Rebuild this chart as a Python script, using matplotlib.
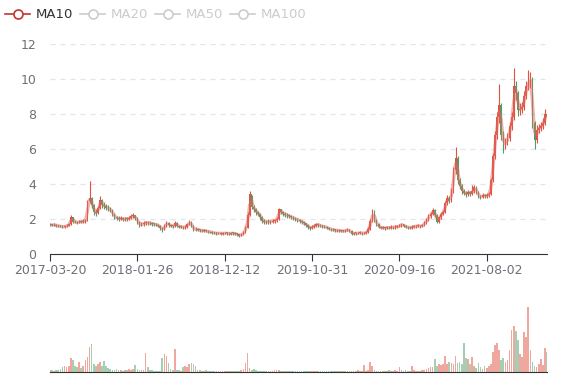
"""Candlestick chart with MA10 and volume panel (weekly candles, 2017-03 .. 2022-03)."""
import matplotlib
matplotlib.use("Agg")
import matplotlib.pyplot as plt
from matplotlib.lines import Line2D
import numpy as np
import pandas as pd

# weekly closes (one candle = one trading week)
closes = [
    1.67, 1.65, 1.68, 1.62, 1.60, 1.58, 1.55, 1.58, 1.62, 1.70,
    2.10, 1.85, 1.82, 1.80, 1.85, 1.83, 1.88, 1.90, 3.00, 3.20,
    2.80, 2.40, 2.35, 2.60, 3.10, 2.80, 2.75, 2.65, 2.60, 2.50,
    2.30, 2.10, 2.05, 2.00, 2.05, 1.98, 2.02, 2.00, 2.05, 2.15,
    2.20, 2.05, 1.85, 1.65, 1.70, 1.75, 1.80, 1.78, 1.75, 1.72,
    1.70, 1.68, 1.62, 1.50, 1.38, 1.60, 1.78, 1.65, 1.60, 1.58,
    1.78, 1.62, 1.55, 1.55, 1.52, 1.55, 1.70, 1.82, 1.60, 1.40,
    1.42, 1.38, 1.35, 1.33, 1.35, 1.30, 1.28, 1.25, 1.22, 1.20,
    1.18, 1.20, 1.17, 1.18, 1.20, 1.18, 1.16, 1.20, 1.18, 1.15,
    1.12, 1.05, 1.12, 1.25, 1.50, 2.20, 3.40, 2.70, 2.55, 2.40,
    2.30, 2.10, 1.90, 1.85, 1.82, 1.88, 1.85, 1.90, 1.92, 2.00,
    2.55, 2.40, 2.30, 2.25, 2.20, 2.15, 2.10, 2.05, 2.00, 1.95,
    1.90, 1.82, 1.75, 1.65, 1.55, 1.48, 1.55, 1.62, 1.70, 1.65,
    1.60, 1.58, 1.55, 1.50, 1.45, 1.40, 1.38, 1.35, 1.36, 1.34,
    1.32, 1.30, 1.35, 1.38, 1.32, 1.15, 1.20, 1.18, 1.20, 1.22,
    1.18, 1.20, 1.25, 1.45, 1.90, 2.45, 1.95, 1.70, 1.55, 1.50,
    1.50, 1.48, 1.52, 1.50, 1.55, 1.52, 1.55, 1.58, 1.62, 1.70,
    1.60, 1.55, 1.52, 1.50, 1.55, 1.58, 1.60, 1.62, 1.58, 1.65,
    1.80, 1.95, 2.15, 2.30, 2.50, 2.20, 1.85, 2.10, 2.30, 2.40,
    2.90, 3.20, 3.05, 3.60, 4.80, 5.50, 4.20, 3.90, 3.60, 3.50,
    3.40, 3.55, 3.45, 3.60, 3.80, 3.55, 3.30, 3.25, 3.35, 3.30,
    3.35, 3.40, 4.20, 5.60, 6.80, 7.80, 8.50, 6.80, 6.20, 6.40,
    6.60, 7.30, 7.80, 9.60, 9.20, 8.20, 8.30, 8.40, 9.00, 9.60,
    9.80, 10.00, 7.50, 6.50, 7.10, 7.20, 7.30, 7.50, 8.00, 7.80,
]
first_open = 1.70

# weekly highs / lows (upper and lower edge of the candle band)
highs = [
    1.76, 1.74, 1.75, 1.72, 1.68, 1.66, 1.64, 1.66, 1.72, 1.80,
    2.25, 2.12, 1.92, 1.90, 1.95, 1.94, 1.98, 2.02, 3.10, 4.20,
    3.25, 2.85, 2.55, 2.75, 3.30, 3.15, 2.95, 2.85, 2.78, 2.70,
    2.55, 2.35, 2.20, 2.15, 2.18, 2.12, 2.14, 2.12, 2.18, 2.28,
    2.32, 2.25, 2.10, 1.90, 1.82, 1.86, 1.90, 1.90, 1.86, 1.84,
    1.80, 1.78, 1.74, 1.66, 1.54, 1.70, 1.88, 1.82, 1.72, 1.68,
    1.88, 1.82, 1.68, 1.64, 1.62, 1.64, 1.80, 1.92, 1.86, 1.64,
    1.52, 1.48, 1.45, 1.42, 1.44, 1.40, 1.36, 1.34, 1.30, 1.28,
    1.26, 1.28, 1.25, 1.26, 1.28, 1.26, 1.24, 1.28, 1.26, 1.24,
    1.20, 1.15, 1.20, 1.34, 1.62, 2.40, 3.60, 3.30, 2.80, 2.62,
    2.48, 2.35, 2.15, 1.98, 1.95, 1.98, 1.96, 2.00, 2.02, 2.12,
    2.65, 2.60, 2.45, 2.38, 2.32, 2.28, 2.22, 2.18, 2.12, 2.08,
    2.02, 1.96, 1.88, 1.80, 1.70, 1.60, 1.64, 1.72, 1.80, 1.76,
    1.70, 1.68, 1.65, 1.60, 1.56, 1.50, 1.47, 1.44, 1.44, 1.43,
    1.40, 1.38, 1.43, 1.46, 1.42, 1.36, 1.28, 1.26, 1.28, 1.30,
    1.28, 1.28, 1.33, 1.55, 2.00, 2.55, 2.50, 2.00, 1.75, 1.60,
    1.58, 1.57, 1.60, 1.59, 1.63, 1.61, 1.63, 1.66, 1.70, 1.78,
    1.74, 1.65, 1.61, 1.59, 1.63, 1.66, 1.68, 1.70, 1.68, 1.74,
    1.90, 2.06, 2.26, 2.42, 2.62, 2.56, 2.28, 2.20, 2.40, 2.52,
    3.02, 3.35, 3.30, 3.75, 5.00, 6.10, 5.60, 4.35, 4.00, 3.72,
    3.60, 3.68, 3.62, 3.95, 3.92, 3.86, 3.62, 3.40, 3.46, 3.44,
    3.46, 3.52, 4.35, 5.80, 7.05, 8.10, 9.70, 8.60, 7.00, 6.65,
    6.90, 7.55, 8.10, 10.60, 9.90, 9.30, 8.60, 8.70, 9.30, 9.90,
    10.50, 10.40, 10.10, 7.60, 7.35, 7.45, 7.55, 7.75, 8.30, 8.15,
]
lows = [
    1.60, 1.58, 1.60, 1.56, 1.53, 1.52, 1.48, 1.50, 1.55, 1.60,
    1.66, 1.78, 1.75, 1.72, 1.76, 1.75, 1.78, 1.80, 1.86, 2.90,
    2.65, 2.25, 2.20, 2.30, 2.55, 2.65, 2.60, 2.50, 2.45, 2.38,
    2.18, 1.98, 1.92, 1.88, 1.92, 1.86, 1.90, 1.88, 1.92, 2.00,
    2.05, 1.92, 1.70, 1.55, 1.58, 1.62, 1.66, 1.66, 1.64, 1.62,
    1.60, 1.58, 1.52, 1.40, 1.28, 1.35, 1.56, 1.56, 1.52, 1.50,
    1.54, 1.54, 1.46, 1.46, 1.44, 1.45, 1.50, 1.66, 1.52, 1.32,
    1.34, 1.30, 1.28, 1.26, 1.27, 1.23, 1.21, 1.18, 1.15, 1.13,
    1.11, 1.12, 1.10, 1.11, 1.12, 1.10, 1.09, 1.11, 1.10, 1.08,
    1.05, 1.00, 1.02, 1.10, 1.22, 1.48, 2.15, 2.55, 2.40, 2.25,
    2.15, 1.95, 1.75, 1.72, 1.70, 1.74, 1.72, 1.76, 1.80, 1.85,
    1.95, 2.28, 2.18, 2.12, 2.08, 2.04, 1.98, 1.94, 1.88, 1.84,
    1.78, 1.72, 1.64, 1.55, 1.45, 1.40, 1.42, 1.48, 1.56, 1.56,
    1.52, 1.50, 1.47, 1.42, 1.38, 1.33, 1.31, 1.28, 1.28, 1.27,
    1.25, 1.23, 1.26, 1.30, 1.25, 1.08, 1.10, 1.11, 1.12, 1.14,
    1.11, 1.12, 1.15, 1.22, 1.40, 1.85, 1.82, 1.60, 1.46, 1.42,
    1.42, 1.40, 1.42, 1.42, 1.45, 1.44, 1.45, 1.48, 1.52, 1.56,
    1.52, 1.47, 1.44, 1.42, 1.44, 1.48, 1.50, 1.52, 1.50, 1.52,
    1.60, 1.74, 1.88, 2.06, 2.22, 2.10, 1.76, 1.80, 2.02, 2.22,
    2.32, 2.80, 2.90, 2.95, 3.50, 4.60, 4.00, 3.70, 3.45, 3.35,
    3.28, 3.32, 3.34, 3.38, 3.50, 3.45, 3.20, 3.15, 3.18, 3.20,
    3.22, 3.28, 3.35, 4.10, 5.45, 6.60, 7.50, 6.50, 5.80, 6.00,
    6.25, 6.45, 7.10, 7.65, 8.80, 7.90, 7.95, 8.05, 8.25, 8.85,
    9.35, 9.50, 7.20, 6.00, 6.35, 6.90, 7.00, 7.15, 7.35, 7.60,
]

# weekly volume, arbitrary units (bar height)
volumes = [
    2, 2, 1, 2, 2, 3, 5, 6, 5, 6,
    14, 12, 6, 5, 10, 4, 6, 12, 15, 25,
    28, 8, 6, 8, 10, 6, 11, 6, 4, 3,
    2, 2, 3, 2, 2, 1, 2, 2, 3, 2,
    3, 7, 3, 2, 2, 2, 19, 5, 2, 2,
    1, 1, 1, 1, 14, 18, 16, 9, 3, 2,
    23, 2, 2, 1, 5, 6, 5, 8, 9, 8,
    6, 2, 2, 1, 1, 2, 1, 1, 1, 1,
    1, 1, 1, 1, 1, 1, 1, 1, 1, 1,
    1, 1, 2, 3, 9, 19, 4, 2, 3, 2,
    1, 1, 1, 1, 1, 1, 1, 1, 2, 2,
    2, 1, 1, 1, 1, 1, 1, 1, 1, 1,
    1, 1, 1, 1, 1, 1, 1, 1, 1, 1,
    1, 1, 1, 1, 1, 1, 1, 1, 1, 1,
    1, 1, 1, 1, 1, 1, 1, 1, 2, 1,
    1, 7, 1, 2, 10, 6, 2, 1, 1, 1,
    1, 1, 1, 2, 1, 1, 2, 1, 5, 2,
    1, 2, 1, 1, 6, 2, 1, 1, 1, 2,
    2, 3, 4, 5, 5, 13, 6, 8, 7, 8,
    16, 8, 10, 9, 8, 16, 9, 10, 8, 29,
    14, 13, 8, 15, 6, 4, 9, 5, 3, 6,
    4, 6, 8, 20, 27, 29, 22, 12, 14, 10,
    12, 22, 42, 46, 41, 32, 18, 15, 40, 35,
    65, 22, 10, 6, 5, 8, 13, 7, 24, 20,
]

tick_pos = [0, 42, 84, 126, 168, 210]
tick_labels = ["2017-03-20", "2018-01-26", "2018-12-12",
               "2019-10-31", "2020-09-16", "2021-08-02"]
legend_names = ["MA10", "MA20", "MA50", "MA100"]

UP, DOWN = "#e0523f", "#4f9e68"
MA_COLOR = "#e06a62"
GRID = "#e0e6f1"
LABEL = "#6e7079"


def main() -> None:
    c = np.array(closes)
    o = np.concatenate([[first_open], c[:-1]])  # weekly candle opens at last close
    hi = np.maximum(np.array(highs), np.maximum(o, c))
    lo = np.minimum(np.array(lows), np.minimum(o, c))
    x = np.arange(len(c))
    up = c >= o
    cols = np.where(up, UP, DOWN)
    # 2 weekly candles ~ 10 trading days
    ma10 = pd.Series(c).rolling(2).mean()

    fig = plt.figure(figsize=(5.77, 3.80), dpi=100)
    W, H = 577, 380
    ax = fig.add_axes([50 / W, 1 - 254 / H, 497 / W, 210 / H])
    axv = fig.add_axes([50 / W, 1 - 372 / H, 497 / W, 72 / H], sharex=ax)

    ax.vlines(x, lo, hi, colors=cols, lw=0.8, zorder=2)
    body = np.where(np.abs(c - o) < 0.03, 0.03, c - o)
    ax.bar(x, body, bottom=o, width=0.75, color=cols, lw=0, zorder=2)
    ax.plot(x, ma10, color=MA_COLOR, lw=2.3, alpha=0.5, zorder=3)

    ax.set_xlim(0, len(c) - 1)
    ax.set_ylim(0, 12)
    ax.set_yticks(range(0, 13, 2))
    for v in range(2, 13, 2):
        ax.axhline(v, color=GRID, lw=0.9, ls=(0, (4, 4)), zorder=1)
    ax.set_xticks(tick_pos)
    ax.set_xticklabels(tick_labels)
    for s in ("top", "right", "left"):
        ax.spines[s].set_visible(False)
    ax.spines["bottom"].set_color("#333333")
    ax.tick_params(axis="y", length=0, pad=10, labelcolor=LABEL, labelsize=9)
    ax.tick_params(axis="x", length=5, color="#333333", labelcolor=LABEL,
                   labelsize=9, pad=2)

    axv.bar(x, volumes, width=0.8, color=cols, alpha=0.5, lw=0)
    axv.set_ylim(0, 72)
    for s in ("top", "right", "left"):
        axv.spines[s].set_visible(False)
    axv.spines["bottom"].set_color("#333333")
    axv.set_yticks([])
    axv.tick_params(axis="x", length=0, labelbottom=False)

    # legend drawn in pixel coordinates on an overlay
    lg = fig.add_axes([0, 0, 1, 1], facecolor="none")
    lg.set_xlim(0, W)
    lg.set_ylim(H, 0)
    lg.axis("off")
    starts = [5, 80, 155, 230]
    for i, (name, x0) in enumerate(zip(legend_names, starts)):
        col = "#c23531" if i == 0 else "#cccccc"
        tcol = "#333333" if i == 0 else "#cccccc"
        lg.add_line(Line2D([x0, x0 + 25], [14, 14], color=col, lw=1.2))
        lg.plot(x0 + 13, 14, "o", ms=6.5, mfc="white", mec=col, mew=1.2)
        lg.text(x0 + 31, 14.5, name, color=tcol, fontsize=9.5, va="center")

    fig.savefig("out.png", dpi=100)


if __name__ == "__main__":
    main()
